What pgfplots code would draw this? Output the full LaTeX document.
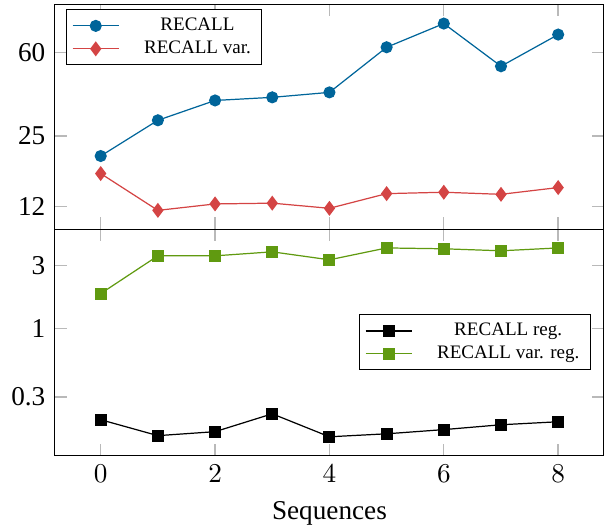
\documentclass[border=0pt]{standalone}
\usepackage{pgfplots}
\pgfplotsset{compat=1.18}
\usepackage[no-math]{fontspec}
\setmainfont{Liberation Serif}

\definecolor{recallblue}{RGB}{0,101,154}
\definecolor{varred}{RGB}{212,68,68}
\definecolor{reggreen}{RGB}{96,154,16}

\pgfplotsset{
  every axis plot/.append style={line width=0.45pt, mark size=2pt},
}

\begin{document}
\begin{tikzpicture}
% upper panel: raw recall values
\begin{axis}[
  scale only axis,
  width=201.8pt,
  height=82.4pt,
  xmin=-0.8, xmax=8.8,
  xtick={0,2,4,6,8},
  ymode=log,
  tick style={gray!55, line width=0.5pt},
  tick align=inside,
  legend cell align=center,
  legend style={font=\fontsize{7}{8.5}\selectfont, draw=black, fill=white,
    inner xsep=2pt, inner ysep=1.8pt, row sep=0.3pt,
    nodes={inner ysep=1pt},
    /tikz/every odd column/.append style={column sep=7pt},
    at={(0.02,0.98)}, anchor=north west},
  at={(0,83.3pt)},
  xticklabels={},
  ytick={12,25,60},
  yticklabels={12,25,60},
]
\addplot[recallblue, mark=*, mark options={fill=recallblue}] coordinates {
  (0,20.3) (1,29.5) (2,36.3) (3,37.5) (4,39.5) (5,63.3) (6,81.1) (7,51.9) (8,72.3)};
\addlegendentry{RECALL}
\addplot[varred, mark=diamond*, mark size=2.4pt, mark options={fill=varred}] coordinates {
  (0,16.9) (1,11.5) (2,12.3) (3,12.4) (4,11.75) (5,13.7) (6,13.9) (7,13.6) (8,14.6)};
\addlegendentry{RECALL var.}
\end{axis}

% lower panel: regularised values
\begin{axis}[
  scale only axis,
  width=201.8pt,
  height=83.3pt,
  xmin=-0.8, xmax=8.8,
  xtick={0,2,4,6,8},
  ymode=log,
  tick style={gray!55, line width=0.5pt},
  tick align=inside,
  legend cell align=center,
  legend style={font=\fontsize{7}{8.5}\selectfont, draw=black, fill=white,
    inner xsep=2pt, inner ysep=1.8pt, row sep=0.3pt,
    nodes={inner ysep=1pt},
    /tikz/every odd column/.append style={column sep=7pt},
    at={(0.976,0.5)}, anchor=east},
  at={(0,0)},
  ytick={0.3,1,3},
  yticklabels={0.3,1,3},
  xlabel={Sequences},
]
\addplot[black, mark=square*, mark options={fill=black}] coordinates {
  (0,0.201) (1,0.152) (2,0.163) (3,0.223) (4,0.149) (5,0.157) (6,0.169) (7,0.184) (8,0.194)};
\addlegendentry{RECALL reg.}
\addplot[reggreen, mark=square*, mark options={fill=reggreen}] coordinates {
  (0,1.84) (1,3.57) (2,3.57) (3,3.83) (4,3.33) (5,4.10) (6,4.04) (7,3.90) (8,4.10)};
\addlegendentry{RECALL var. reg.}
\end{axis}

\pgfresetboundingbox
\path[use as bounding box] (-20.2pt,-27.6pt) rectangle (204.4pt,167.5pt);
\end{tikzpicture}
\end{document}
